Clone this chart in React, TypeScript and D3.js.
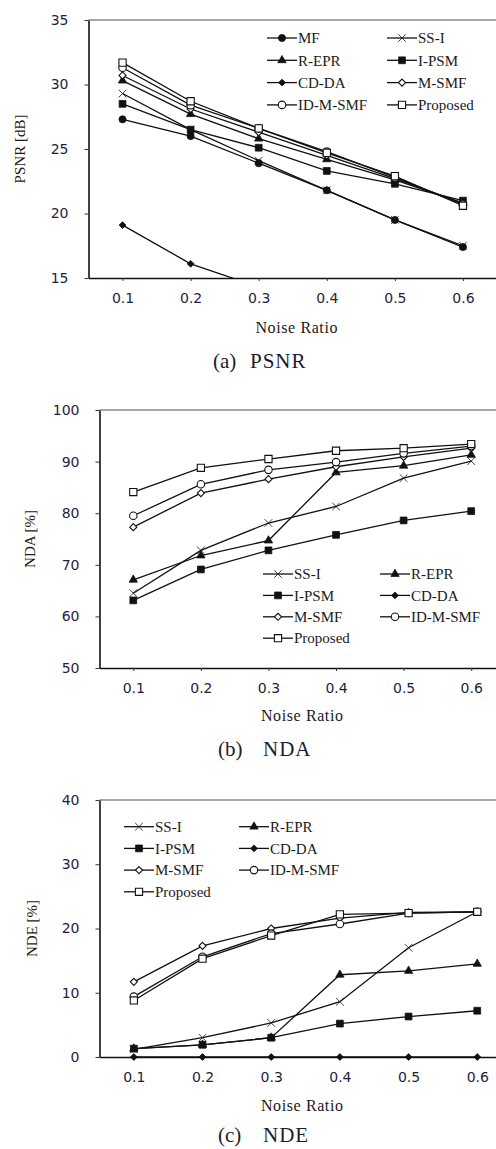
import React, { useRef, useEffect } from "react";
import * as d3 from "d3";

// x categories (noise ratio)
const noiseRatio = [0.1, 0.2, 0.3, 0.4, 0.5, 0.6];

// (a) PSNR [dB]
const psnrMF = [27.3, 26.0, 23.9, 21.8, 19.5, 17.4];
const psnrSSI = [29.3, 26.5, 24.1, 21.8, 19.5, 17.5];
const psnrREPR = [30.3, 27.7, 25.8, 24.2, 22.6, 20.8];
const psnrIPSM = [28.5, 26.5, 25.1, 23.3, 22.3, 21.0];
const psnrCDDA = [19.1, 16.1, 14.3, 12.6, 11.0, 9.5]; // drops out of the axis after 0.2
const psnrMSMF = [30.7, 28.1, 26.3, 24.5, 22.7, 20.8];
const psnrIDMSMF = [31.3, 28.4, 26.6, 24.8, 22.8, 20.7];
const psnrProposed = [31.7, 28.7, 26.6, 24.7, 22.9, 20.6];

// (b) NDA [%]
const ndaSSI = [64.5, 72.8, 78.1, 81.3, 86.8, 90.1];
const ndaREPR = [67.1, 71.8, 74.7, 87.9, 89.2, 91.3];
const ndaIPSM = [63.1, 69.1, 72.8, 75.8, 78.6, 80.4];
const ndaCDDA: (number | null)[] = [null, null, null, null, null, null]; // not visible in the plot
const ndaMSMF = [77.3, 83.9, 86.6, 89.0, 90.9, 92.6];
const ndaIDMSMF = [79.5, 85.6, 88.4, 89.9, 91.6, 93.0];
const ndaProposed = [84.1, 88.8, 90.5, 92.1, 92.6, 93.4];

// (c) NDE [%]
const ndeSSI = [1.2, 3.0, 5.3, 8.6, 17.0, 22.6];
const ndeREPR = [1.3, 1.9, 3.0, 12.8, 13.4, 14.5];
const ndeIPSM = [1.3, 1.9, 3.0, 5.2, 6.3, 7.2];
const ndeCDDA = [0, 0, 0, 0, 0, 0];
const ndeMSMF = [11.7, 17.3, 20.0, 21.6, 22.5, 22.6];
const ndeIDMSMF = [9.4, 15.6, 19.2, 20.7, 22.4, 22.6];
const ndeProposed = [8.8, 15.3, 18.9, 22.2, 22.4, 22.6];

const psnrTicks = [15, 20, 25, 30, 35];
const ndaTicks = [50, 60, 70, 80, 90, 100];
const ndeTicks = [0, 10, 20, 30, 40];

const SERIF = "'Liberation Serif', 'Times New Roman', serif";
const SANS = "'DejaVu Sans', Verdana, sans-serif";

const markerStyle: Record<string, { symbol: d3.SymbolType; size: number; open: boolean }> = {
  MF: { symbol: d3.symbolCircle, size: 40, open: false },
  "SS-I": { symbol: d3.symbolTimes, size: 40, open: false },
  "R-EPR": { symbol: d3.symbolTriangle, size: 30, open: false },
  "I-PSM": { symbol: d3.symbolSquare, size: 46, open: false },
  "CD-DA": { symbol: d3.symbolDiamond2, size: 30, open: false },
  "M-SMF": { symbol: d3.symbolDiamond2, size: 32, open: true },
  "ID-M-SMF": { symbol: d3.symbolCircle, size: 44, open: true },
  Proposed: { symbol: d3.symbolSquare, size: 52, open: true }
};

const panels = [
  {
    series: [
      ["MF", psnrMF], ["SS-I", psnrSSI], ["R-EPR", psnrREPR], ["I-PSM", psnrIPSM],
      ["CD-DA", psnrCDDA], ["M-SMF", psnrMSMF], ["ID-M-SMF", psnrIDMSMF], ["Proposed", psnrProposed]
    ],
    yDomain: [15, 35], yTicks: psnrTicks, yLabel: "PSNR [dB]",
    left: 88.5, right: 497, top: 20, bottom: 278,
    yLabelX: 20, xLabelY: 327, capY: 361, cap: ["(a)", "PSNR"], capX: [213, 250],
    legend: { x: 267, x2: 387, y: 38, gap: 22.3 }
  },
  {
    series: [
      ["SS-I", ndaSSI], ["R-EPR", ndaREPR], ["I-PSM", ndaIPSM], ["CD-DA", ndaCDDA],
      ["M-SMF", ndaMSMF], ["ID-M-SMF", ndaIDMSMF], ["Proposed", ndaProposed]
    ],
    yDomain: [50, 100], yTicks: ndaTicks, yLabel: "NDA [%]",
    left: 99.5, right: 505, top: 410, bottom: 668,
    yLabelX: 30, xLabelY: 715, capY: 749, cap: ["(b)", "NDA"], capX: [218, 263],
    legend: { x: 263, x2: 380, y: 574, gap: 21.4 }
  },
  {
    series: [
      ["SS-I", ndeSSI], ["R-EPR", ndeREPR], ["I-PSM", ndeIPSM], ["CD-DA", ndeCDDA],
      ["M-SMF", ndeMSMF], ["ID-M-SMF", ndeIDMSMF], ["Proposed", ndeProposed]
    ],
    yDomain: [0, 40], yTicks: ndeTicks, yLabel: "NDE [%]",
    left: 99.5, right: 511.6, top: 800, bottom: 1057,
    yLabelX: 32, xLabelY: 1105, capY: 1135, cap: ["(c)", "NDE"], capX: [218, 263],
    legend: { x: 124, x2: 239, y: 826.7, gap: 21.7 }
  }
];

function drawPanel(svg: any, p: any, i: number) {
  const x = d3.scaleLinear().domain([0.05, 0.65]).range([p.left, p.right]);
  const y = d3.scaleLinear().domain(p.yDomain).range([p.bottom, p.top]);
  const g = svg.append("g");

  const clipId = "plot-clip-" + i;
  g.append("clipPath").attr("id", clipId)
    .append("rect")
    .attr("x", p.left).attr("y", p.top - 10)
    .attr("width", p.right - p.left + 10).attr("height", p.bottom - p.top + 10);

  // frame (top + right in gray)
  g.append("path")
    .attr("d", `M${p.left},${p.top}H${p.right}V${p.bottom}`)
    .attr("fill", "none").attr("stroke", "#8a8a8a").attr("stroke-width", 1.3);

  // axes
  const yAxis = d3.axisLeft(y).tickValues(p.yTicks).tickSize(4).tickSizeOuter(0).tickPadding(16);
  const yg = g.append("g").attr("transform", `translate(${p.left},0)`).call(yAxis);
  const xAxis = d3.axisBottom(x).tickValues(noiseRatio).tickFormat(d3.format(".1f"))
    .tickSize(3).tickSizeOuter(0).tickPadding(12);
  const xg = g.append("g").attr("transform", `translate(0,${p.bottom})`).call(xAxis);
  [yg, xg].forEach((ax) => {
    ax.attr("font-family", SANS).attr("font-size", 14);
    ax.select(".domain").attr("stroke", "#111").attr("stroke-width", 1.6);
    ax.selectAll(".tick line").attr("stroke", "#333");
    ax.selectAll(".tick text").attr("fill", "#1e1e3c");
  });

  // series
  const line = d3.line<any>()
    .defined((d) => d[1] != null)
    .x((d) => x(d[0]))
    .y((d) => y(d[1]));
  p.series.forEach(([name, values]: [string, (number | null)[]]) => {
    const st = markerStyle[name];
    const pts = noiseRatio.map((r, k) => [r, values[k]]);
    g.append("path")
      .attr("clip-path", `url(#${clipId})`)
      .attr("d", line(pts))
      .attr("fill", "none").attr("stroke", "#111").attr("stroke-width", 1.3);
    g.append("g").selectAll("path")
      .data(pts.filter((d) => d[1] != null && d[1] >= p.yDomain[0] && d[1] <= p.yDomain[1]))
      .join("path")
      .attr("transform", (d: any) => `translate(${x(d[0])},${y(d[1])})`)
      .attr("d", d3.symbol(st.symbol, st.size)())
      .attr("fill", st.open ? "#fff" : "#111")
      .attr("stroke", "#111")
      .attr("stroke-width", st.open ? 1.1 : 0.8);
  });

  // legend
  const lg = g.append("g");
  p.series.forEach(([name]: [string], k: number) => {
    const st = markerStyle[name];
    const lx = k % 2 === 0 ? p.legend.x : p.legend.x2;
    const ly = p.legend.y + Math.floor(k / 2) * p.legend.gap;
    lg.append("line").attr("x1", lx).attr("x2", lx + 30).attr("y1", ly).attr("y2", ly)
      .attr("stroke", "#111").attr("stroke-width", 1.3);
    lg.append("path")
      .attr("transform", `translate(${lx + 15},${ly})`)
      .attr("d", d3.symbol(st.symbol, st.size)())
      .attr("fill", st.open ? "#fff" : "#111")
      .attr("stroke", "#111").attr("stroke-width", st.open ? 1.1 : 0.8);
    lg.append("text").attr("x", lx + 31).attr("y", ly).attr("dy", "0.35em")
      .attr("font-family", SERIF).attr("font-size", 15).attr("fill", "#1a1a1a")
      .text(name);
  });

  // axis titles
  g.append("text")
    .attr("transform", `translate(${p.yLabelX},${(p.top + p.bottom) / 2}) rotate(-90)`)
    .attr("text-anchor", "middle").attr("dy", "0.35em")
    .attr("font-family", SERIF).attr("font-size", 15).attr("fill", "#1a1a1a")
    .text(p.yLabel);
  g.append("text")
    .attr("x", (p.left + 497) / 2 + 4).attr("y", p.xLabelY).attr("dy", "0.35em")
    .attr("text-anchor", "middle")
    .attr("font-family", SERIF).attr("font-size", 16).attr("letter-spacing", 0.6).attr("fill", "#1a1a1a")
    .text("Noise Ratio");

  // caption
  const cap = g.append("text").attr("y", p.capY).attr("dy", "0.35em")
    .attr("font-family", SERIF).attr("font-size", 21).attr("fill", "#1c1c2e");
  cap.append("tspan").attr("x", p.capX[0]).text(p.cap[0]);
  cap.append("tspan").attr("x", p.capX[1]).attr("letter-spacing", 1).text(p.cap[1]);
}

export default function App() {
  const svgRef = useRef<SVGSVGElement>(null);

  useEffect(() => {
    const svg = d3.select(svgRef.current);
    svg.selectAll("*").remove();
    panels.forEach((p, i) => drawPanel(svg, p, i));
  }, []);

  return (
    <svg
      ref={svgRef}
      width={496}
      height={1149}
      style={{ position: "absolute", left: 0, top: 0, background: "#fff" }}
    />
  );
}
